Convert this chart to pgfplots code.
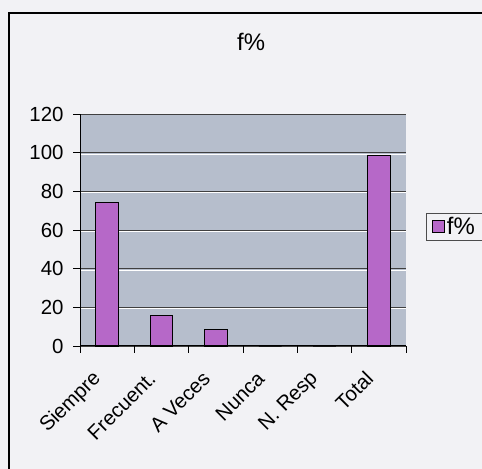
\documentclass[border=0pt]{standalone}
\usepackage{pgfplots}
\pgfplotsset{compat=1.18}
\usepackage{fontspec}
\setmainfont{Liberation Sans}
\definecolor{plotbg}{RGB}{182,190,204}
\definecolor{outerbg}{RGB}{242,242,245}
\definecolor{barfill}{RGB}{182,104,200}
\begin{document}
\begin{tikzpicture}[x=1bp,y=1bp]
\useasboundingbox (0,0) rectangle (482,469);
\fill[outerbg] (0,0) rectangle (482,469);
\draw[black, line width=1.2bp] (9,-5) -- (9,456) -- (490,456);
\begin{axis}[
  at={(80bp,123bp)}, anchor=south west,
  scale only axis, width=326bp, height=232bp,
  xmin=0.5, xmax=6.5, ymin=0, ymax=120,
  axis background/.style={fill=plotbg},
  ytick={0,20,...,120},
  ymajorgrids, grid style={black!75, line width=0.8bp},
  xtick={1,...,6},
  xticklabels={Siempre,Frecuent.,A Veces,Nunca,N. Resp,Total},
  major x tick style={draw=none},
  minor xtick={0.5,1.5,...,6.5},
  xtick pos=lower, ytick pos=left,
  minor tick length=7bp, major tick length=7bp,
  tick align=outside,
  tick style={black, line width=0.8bp},
  x axis line style={draw=none},
  axis line style={black!60, line width=0.8bp},
  yticklabel style={font=\fontsize{20.5}{23}\selectfont, xshift=-6bp},
  xticklabel style={font=\fontsize{20.5}{23}\selectfont, xshift=-7bp, yshift=-20bp, rotate=45, anchor=east},
  /pgf/number format/assume math mode=true,
  title={f\%}, title style={font=\fontsize{24}{26}\selectfont, at={(0.525,1.285)}, anchor=center},
  legend style={at={(1.061,0.515)}, anchor=west, draw=black!70, fill=outerbg, font=\fontsize{24}{26}\selectfont, inner xsep=6bp, inner ysep=2bp},
  legend image code/.code={\draw[#1, draw=black] (0bp,-6bp) rectangle (12bp,6bp);},
  clip=false,
]
\pgfplotsinvokeforeach{20,40,60,80,100}{
  \draw[white, line width=0.8bp] ([yshift=-1.4bp]axis cs:0.5,#1) -- ([yshift=-1.4bp]axis cs:6.5,#1);
}
\addplot[ybar, bar width=0.42, fill=barfill, draw=black, line width=0.9bp] coordinates {(1,74.4) (2,15.8) (3,8.6) (4,0) (5,0) (6,98.8)};
\addlegendentry{f\%\hspace{8bp}}
\draw[black, line width=1bp] (axis cs:0.5,0) -- (axis cs:6.5,0);
\draw[black, line width=1bp] (axis cs:0.5,0) -- (axis cs:0.5,120);
\end{axis}
\end{tikzpicture}
\end{document}
